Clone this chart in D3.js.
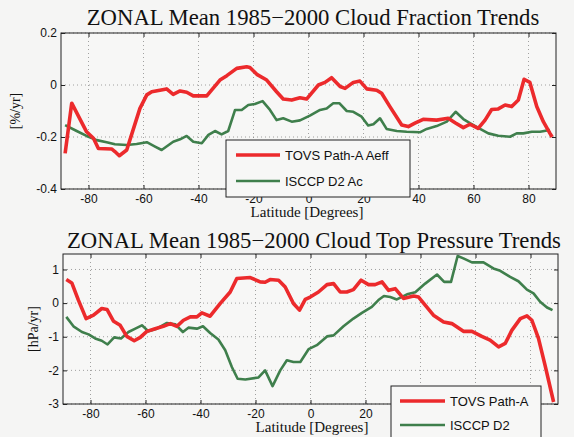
<!DOCTYPE html>
<html><head><meta charset="utf-8">
<script src="https://cdn.jsdelivr.net/npm/d3@7"></script>
<style>
html,body{margin:0;padding:0;background:#f5f5f4;}
svg{display:block;}
</style></head>
<body>
<svg id="chart" width="574" height="437"></svg>
<script>
// ---------- DATA ----------
const xTicks = [-80, -60, -40, -20, 0, 20, 40, 60, 80];
const topXTickLabels = ["-80", "-60", "-40", "-20", "0", "20", "40", "60", "80"];
// in the lower panel the legend box hides the 40/60/80 labels
const botXTickLabels = ["-80", "-60", "-40", "-20", "0", "20", "", "", ""];
const topYTicks = [-0.4, -0.2, 0, 0.2];
const topYTickLabels = ["-0.4", "-0.2", "0", "0.2"];
const botYTicks = [-3, -2, -1, 0, 1];
const botYTickLabels = ["-3", "-2", "-1", "0", "1"];

// Cloud fraction trends [%/yr]
const tovsCfLat = [-88.5,-86.1,-80.7,-78.2,-76.4,-71.6,-70.4,-68.8,-66.1,-64.3,-61.3,-58.8,-57,-51.6,-49.2,-46.7,-44.3,-41.9,-37,-32.2,-29.7,-26.1,-22.5,-21.3,-18.8,-15.2,-11.6,-9.2,-6.1,-3.1,-0.7,3.6,6,8.4,11.5,13.3,16.3,18.7,21.2,24.8,26.6,29.6,33.9,36.3,38.7,41.7,46.6,50.8,53.3,56.3,58.7,61.7,64.2,66.6,69,71.5,73.9,76.3,78.4,80.5,83,85.4,87.8,88.6];
const tovsCfVal = [-0.263,-0.07,-0.18,-0.205,-0.244,-0.246,-0.256,-0.272,-0.25,-0.19,-0.09,-0.038,-0.026,-0.015,-0.036,-0.023,-0.028,-0.042,-0.042,0.019,0.036,0.064,0.07,0.067,0.041,0.019,-0.026,-0.054,-0.058,-0.049,-0.054,0.0,0.01,0.028,-0.006,-0.013,0.01,0.015,-0.015,-0.02,-0.032,-0.083,-0.154,-0.16,-0.147,-0.132,-0.135,-0.128,-0.145,-0.164,-0.151,-0.167,-0.135,-0.094,-0.092,-0.077,-0.083,-0.058,0.022,0.01,-0.083,-0.141,-0.186,-0.2];
const isccpCfLat = [-88.5,-84.3,-80.7,-77,-73.4,-70.4,-66.1,-62.5,-58.8,-55.8,-53.4,-49.2,-46.7,-44.3,-41.9,-38.8,-36.4,-34,-31.6,-29.2,-26.7,-24.3,-21.9,-19.5,-16.7,-14,-11.6,-9.2,-6.1,-3.1,0.5,4.2,6.6,9,11.2,13.9,16.3,19.3,21.7,23.6,26,28.4,32.1,35.7,40.5,43,46.6,50.3,53.5,56.3,58.7,62.4,65.4,69,73.3,75.7,78.1,81.2,84.2,87.8];
const isccpCfVal = [-0.154,-0.177,-0.196,-0.212,-0.22,-0.228,-0.231,-0.227,-0.22,-0.237,-0.25,-0.218,-0.209,-0.196,-0.218,-0.224,-0.192,-0.177,-0.19,-0.177,-0.096,-0.096,-0.077,-0.073,-0.062,-0.096,-0.135,-0.128,-0.141,-0.136,-0.118,-0.096,-0.09,-0.07,-0.07,-0.1,-0.103,-0.122,-0.156,-0.151,-0.128,-0.169,-0.177,-0.18,-0.182,-0.169,-0.158,-0.141,-0.103,-0.131,-0.147,-0.169,-0.186,-0.195,-0.199,-0.186,-0.186,-0.18,-0.18,-0.173];

// Cloud top pressure trends [hPa/yr]
const tovsCtpLat = [-88.8,-86.8,-84.4,-81.6,-78.9,-75.9,-74,-71.6,-69.2,-66.8,-64.1,-61.9,-59.5,-56.5,-53.5,-51,-48.6,-46.2,-43.7,-41.3,-39.5,-36.5,-32.8,-29.2,-26.8,-21.9,-18.3,-16.5,-14.7,-11.6,-9.2,-6.2,-4,-1.9,-0.1,2.9,6,8.4,10.8,13.2,15.6,18.4,21.1,23.5,26,28.4,30.8,33.8,37.5,39.3,41.7,44.7,48.4,51.4,55.6,58.7,62.3,65.3,68.4,70.8,73.2,76.3,78.7,80.5,82.9,85.3,88.4];
const tovsCtpVal = [0.70,0.60,0.09,-0.46,-0.36,-0.16,-0.19,-0.54,-0.66,-0.99,-1.12,-1.02,-0.84,-0.76,-0.69,-0.61,-0.69,-0.51,-0.41,-0.41,-0.29,-0.39,-0.01,0.33,0.73,0.76,0.63,0.62,0.70,0.68,0.48,-0.01,-0.21,0.11,0.18,0.33,0.55,0.58,0.33,0.33,0.40,0.68,0.55,0.55,0.63,0.38,0.43,0.14,0.21,0.18,-0.06,-0.36,-0.56,-0.61,-0.84,-0.84,-0.99,-1.10,-1.30,-1.20,-0.81,-0.46,-0.38,-0.51,-1.05,-1.85,-2.94];
const isccpCtpLat = [-88.8,-86.2,-83.1,-80.7,-78.3,-75.9,-73.8,-71.4,-68.9,-66.2,-63.7,-61.3,-58.9,-55.9,-52.2,-49.2,-46.4,-44.4,-41.3,-39.1,-36.5,-33.5,-31,-28.6,-26.5,-23.7,-18.9,-16.5,-13.8,-11,-8.6,-6.2,-3.7,-0.7,2.3,6,8.4,12,15.6,18.7,22.3,24.7,26.7,29,31.4,35.1,38.1,41.7,46,48.6,51.1,53.5,55.6,58.7,62.9,66.5,69,72.6,75.6,78.7,81.1,83.5,86,88];
const isccpCtpVal = [-0.41,-0.69,-0.86,-0.93,-1.05,-1.12,-1.23,-1.02,-1.05,-0.86,-0.76,-0.66,-0.84,-0.76,-0.59,-0.63,-0.86,-0.73,-0.76,-0.69,-0.89,-1.08,-1.40,-1.90,-2.25,-2.27,-2.21,-2.0,-2.47,-2.0,-1.70,-1.75,-1.75,-1.37,-1.25,-0.99,-0.96,-0.69,-0.46,-0.29,-0.11,0.09,0.21,0.18,0.11,0.26,0.32,0.58,0.85,0.63,0.63,1.40,1.33,1.21,1.21,1.03,0.96,0.78,0.65,0.40,0.29,0.04,-0.13,-0.21];

const titles = ["ZONAL Mean 1985\u22122000 Cloud Fraction Trends", "ZONAL Mean 1985\u22122000 Cloud Top Pressure Trends"];
const yLabels = ["[%/yr]", "[hPa/yr]"];
const xLabel = "Latitude [Degrees]";
const legendTop = ["TOVS Path-A Aeff", "ISCCP D2 Ac"];
const legendBot = ["TOVS Path-A", "ISCCP D2"];

const RED = "#ec2a2c", GREEN = "#3f7f4c";

// ---------- DRAW ----------
const svg = d3.select("#chart");
const serif = "'Liberation Serif','Times New Roman',serif";
const sans = "'Liberation Sans',Arial,sans-serif";

function panel(cfg) {
  const x = d3.scaleLinear().domain([-90, 90]).range([cfg.left, cfg.right]);
  const y = d3.scaleLinear().domain(cfg.yDomain).range([cfg.bottom, cfg.top]);
  const g = svg.append("g");

  g.append("rect").attr("x", cfg.left).attr("y", cfg.top)
    .attr("width", cfg.right - cfg.left).attr("height", cfg.bottom - cfg.top)
    .attr("fill", "#f7f7f6");

  g.selectAll(".vg").data(xTicks).join("line")
    .attr("x1", d => x(d)).attr("x2", d => x(d))
    .attr("y1", cfg.top).attr("y2", cfg.bottom)
    .attr("stroke", "#8a8a8a").attr("stroke-width", 0.8).attr("stroke-dasharray", "1,3");
  g.selectAll(".hg").data(cfg.yTicks).join("line")
    .attr("x1", cfg.left).attr("x2", cfg.right)
    .attr("y1", d => y(d)).attr("y2", d => y(d))
    .attr("stroke", "#8a8a8a").attr("stroke-width", 0.8).attr("stroke-dasharray", "1,3");

  const axB = d3.axisBottom(x).tickValues(xTicks).tickSize(-4).tickPadding(5).tickFormat((d, i) => cfg.xTickLabels[i]);
  const axT = d3.axisTop(x).tickValues(xTicks).tickSize(-4).tickFormat("");
  const axL = d3.axisLeft(y).tickValues(cfg.yTicks).tickSize(-4).tickPadding(4).tickFormat((d, i) => cfg.yTickLabels[i]);
  const axR = d3.axisRight(y).tickValues(cfg.yTicks).tickSize(-4).tickFormat("");
  [[axB, `translate(0,${cfg.bottom})`], [axT, `translate(0,${cfg.top})`],
   [axL, `translate(${cfg.left},0)`], [axR, `translate(${cfg.right},0)`]].forEach(([ax, tr]) => {
    const a = g.append("g").attr("transform", tr).call(ax);
    a.select(".domain").remove();
    a.selectAll("line").attr("stroke", "#222");
    a.selectAll("text").attr("font-family", sans).attr("font-size", 12).attr("fill", "#111");
  });

  const line = d3.line().x(d => x(d[0])).y(d => y(d[1])).curve(d3.curveLinear);
  const clipId = "clip" + cfg.id;
  svg.append("clipPath").attr("id", clipId).append("rect")
    .attr("x", cfg.left).attr("y", cfg.top - 2).attr("width", cfg.right - cfg.left).attr("height", cfg.bottom - cfg.top + 4);
  g.append("path").datum(d3.zip(cfg.gLat, cfg.gVal)).attr("d", line)
    .attr("fill", "none").attr("stroke", GREEN).attr("stroke-width", 2.6).attr("stroke-linejoin", "round")
    .attr("clip-path", `url(#${clipId})`);
  g.append("path").datum(d3.zip(cfg.rLat, cfg.rVal)).attr("d", line)
    .attr("fill", "none").attr("stroke", RED).attr("stroke-width", 3.6).attr("stroke-linejoin", "round")
    .attr("clip-path", `url(#${clipId})`);

  g.append("rect").attr("x", cfg.left).attr("y", cfg.top)
    .attr("width", cfg.right - cfg.left).attr("height", cfg.bottom - cfg.top)
    .attr("fill", "none").attr("stroke", "#222").attr("stroke-width", 1);

  svg.append("text").attr("x", cfg.titleX).attr("y", cfg.titleY).attr("text-anchor", "middle")
    .attr("font-family", serif).attr("font-size", 22.7).attr("fill", "#111").text(cfg.title);
  svg.append("text").attr("x", cfg.xlabX).attr("y", cfg.xlabY).attr("text-anchor", "middle")
    .attr("font-family", serif).attr("font-size", 15).attr("fill", "#111").text(xLabel);
  svg.append("text").attr("transform", `translate(${cfg.ylabX},${(cfg.top + cfg.bottom) / 2}) rotate(-90)`)
    .attr("text-anchor", "middle").attr("font-family", serif).attr("font-size", 14).attr("fill", "#111").text(cfg.yLabel);

  const L = cfg.legend;
  svg.append("rect").attr("x", L.x).attr("y", L.y).attr("width", L.w).attr("height", L.h)
    .attr("fill", "#f7f7f6").attr("stroke", "#222").attr("stroke-width", 1);
  [[RED, 3.6, cfg.legendText[0], L.r], [GREEN, 2.6, cfg.legendText[1], L.g]].forEach(([c, w, t, yy]) => {
    svg.append("line").attr("x1", L.lx1).attr("x2", L.lx2).attr("y1", yy).attr("y2", yy)
      .attr("stroke", c).attr("stroke-width", w);
    svg.append("text").attr("x", L.tx).attr("y", yy + 4.5).attr("font-family", sans).attr("font-size", 13)
      .attr("fill", "#111").text(t);
  });
}

panel({
  id: 1, left: 61, right: 556, top: 33, bottom: 189, yDomain: [-0.4, 0.2],
  xTickLabels: topXTickLabels, yTicks: topYTicks, yTickLabels: topYTickLabels,
  rLat: tovsCfLat, rVal: tovsCfVal, gLat: isccpCfLat, gVal: isccpCfVal,
  title: titles[0], titleX: 313, titleY: 25, xlabX: 307, xlabY: 217, ylabX: 20, yLabel: yLabels[0],
  legendText: legendTop,
  legend: { x: 226, y: 140, w: 184, h: 57, lx1: 236, lx2: 280, tx: 285, r: 155, g: 181 }
});
panel({
  id: 2, left: 63, right: 558, top: 254, bottom: 404, yDomain: [-3, 1.46],
  xTickLabels: botXTickLabels, yTicks: botYTicks, yTickLabels: botYTickLabels,
  rLat: tovsCtpLat, rVal: tovsCtpVal, gLat: isccpCtpLat, gVal: isccpCtpVal,
  title: titles[1], titleX: 314, titleY: 248, xlabX: 312, xlabY: 432, ylabX: 38, yLabel: yLabels[1],
  legendText: legendBot,
  legend: { x: 391, y: 386, w: 150, h: 60, lx1: 400, lx2: 445, tx: 450, r: 401, g: 425 }
});
</script>
</body></html>
